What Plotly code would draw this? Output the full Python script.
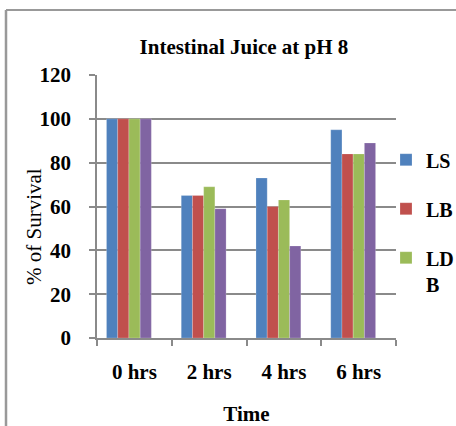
import plotly.graph_objects as go

categories = ["0 hrs", "2 hrs", "4 hrs", "6 hrs"]
series_names = ["LS", "LB", "LD<br>B", "LDB2"]
ls_values = [100, 65, 73, 95]
lb_values = [100, 65, 60, 84]
ldb_values = [100, 69, 63, 84]
purple_values = [100, 59, 42, 89]
colors = ["#4F81BD", "#C0504D", "#9BBB59", "#8064A2"]
show_in_legend = [True, True, True, False]

all_values = [ls_values, lb_values, ldb_values, purple_values]

FONT = "Liberation Serif, Times New Roman, serif"
GRID = "#8A8A8A"

bar_w = 0.15
start = -0.373

fig = go.Figure()
for i, (name, vals, col, sl) in enumerate(zip(series_names, all_values, colors, show_in_legend)):
    fig.add_trace(go.Bar(
        x=categories, y=vals, name="<b>%s</b>" % name,
        marker=dict(color=col, line=dict(color="rgba(255,255,255,0.35)", width=0.6)),
        width=bar_w, offset=start + i * bar_w,
        showlegend=sl, legendgroup="g%d" % i,
    ))

fig.update_layout(
    width=456, height=426,
    margin=dict(l=97, r=60, t=75, b=88, autoexpand=False),
    paper_bgcolor="white", plot_bgcolor="white",
    barmode="overlay",
    font=dict(family=FONT, color="black"),
    title=dict(text="<b>Intestinal Juice at pH 8</b>", x=0.535, xanchor="center",
               y=1 - 47 / 426, yanchor="middle", font=dict(size=21, family=FONT)),
    legend=dict(x=1.0 + (386 - 396) / 299, xanchor="left", y=0.752, yanchor="top",
                font=dict(size=20, family=FONT), tracegroupgap=20,
                traceorder="grouped", valign="top", bgcolor="rgba(0,0,0,0)",
                itemwidth=30),
    showlegend=True,
)
fig.update_xaxes(
    type="category", range=[-0.5, 3.5],
    showline=True, linecolor=GRID, linewidth=1.5,
    ticks="outside", tickson="boundaries", ticklen=6, tickcolor=GRID, tickwidth=1.5,
    tickfont=dict(size=21, family=FONT), ticklabelstandoff=14,
    showgrid=False,
    tickvals=categories, ticktext=["<b>%s</b>" % c for c in categories],
    title=dict(text="<b>Time</b>", font=dict(size=21, family=FONT), standoff=29),
)
fig.update_yaxes(
    range=[0, 120], tickvals=[0, 20, 40, 60, 80, 100, 120],
    ticktext=["<b>%d</b>" % v for v in [0, 20, 40, 60, 80, 100, 120]],
    showline=True, linecolor=GRID, linewidth=1.5,
    ticks="outside", ticklen=6, tickcolor=GRID, tickwidth=1.5,
    tickfont=dict(size=21, family=FONT), ticklabelstandoff=14,
    showgrid=True, gridcolor=GRID, gridwidth=1.5,
    zeroline=False,
)
# y-axis title
fig.add_annotation(text="% of Survival", xref="paper", yref="paper",
                   x=(34 - 97) / 299, y=(338 - 227) / 263, textangle=-90,
                   showarrow=False, xanchor="center", yanchor="middle",
                   font=dict(size=21, family=FONT, color="black"))

# outer chart border (top and left edges visible)
fig.add_shape(type="line", xref="paper", yref="paper",
              x0=(6 - 97) / 299, x1=(470 - 97) / 299,
              y0=(338 - 10) / 263, y1=(338 - 10) / 263,
              line=dict(color="#999999", width=2))
fig.add_shape(type="line", xref="paper", yref="paper",
              x0=(6 - 97) / 299, x1=(6 - 97) / 299,
              y0=(338 - 10) / 263, y1=(338 - 440) / 263,
              line=dict(color="#999999", width=2.5))

fig.write_html("out.html")
